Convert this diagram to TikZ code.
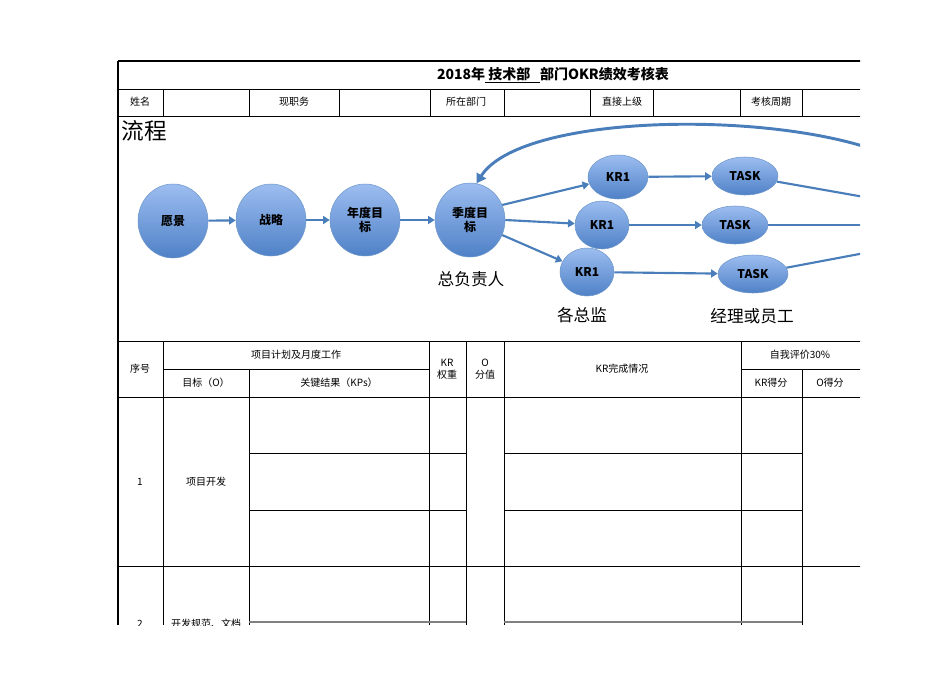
\documentclass[tikz,border=0pt]{standalone}
\usepackage{fontspec}
\setmainfont{Liberation Sans}
\newfontfamily\cjk{Noto Sans CJK SC}
\usetikzlibrary{shapes.geometric,arrows.meta}
\definecolor{okrblue}{HTML}{4F81C7}
\definecolor{okrlight}{HTML}{9CBDF0}
\definecolor{okrline}{HTML}{4A7EBB}
\tikzset{
  bubble/.style={ellipse, draw=okrline!80, top color=okrlight, bottom color=okrblue,
    inner sep=0pt, font=\cjk\bfseries\fontsize{9}{10}\selectfont, align=center},
  flow/.style={okrline, line width=1.6pt, -{Triangle[length=5pt,width=6pt]}},
  cell/.style={font=\cjk\fontsize{7.5}{9}\selectfont, align=center},
  role/.style={font=\cjk\fontsize{12.5}{14}\selectfont}
}
\begin{document}
\begin{tikzpicture}[x=0.75pt,y=-0.75pt]
    \useasboundingbox (0,0) rectangle (950,672);
    \begin{scope}
    \clip (0,0) rectangle (860,625);
        % Table frame, title and info rows
        \draw[thick] (118,61) -- (870,61);
        \draw[thick] (118,61) -- (118,625);
        \draw (118,89) -- (870,89);
        \draw (118,116) -- (870,116);
        \foreach \x in {163,249,339,430,504,590,653,740,802}
            \draw (\x,89) -- (\x,116);
        \node[font=\cjk\bfseries\fontsize{10.5}{12}\selectfont] (title) at (553,75)
            {2018年\underline{\ 技术部\ \ \ }部门OKR绩效考核表};
        \node[cell] (name) at (140,102) {姓名};
        \node[cell] (job) at (294,102) {现职务};
        \node[cell] (dept) at (466,102) {所在部门};
        \node[cell] (boss) at (622,102) {直接上级};
        \node[cell] (period) at (771,102) {考核周期};
        \node[font=\cjk\fontsize{17}{18}\selectfont, anchor=west] (flowtitle) at (117,131) {流程};

        % Flow bubbles
        \node[bubble, minimum width=70pt*0.75, minimum height=74pt*0.75] (vision) at (173,221) {愿景};
        \node[bubble, minimum width=70pt*0.75, minimum height=72pt*0.75] (strategy) at (271,220) {战略};
        \node[bubble, minimum width=70pt*0.75, minimum height=72pt*0.75] (annual) at (365,220) {年度目\\标};
        \node[bubble, minimum width=70pt*0.75, minimum height=74pt*0.75] (quarter) at (470,220) {季度目\\标};
        \node[bubble, minimum width=60pt*0.75, minimum height=44pt*0.75] (kra) at (618,177) {KR1};
        \node[bubble, minimum width=66pt*0.75, minimum height=38pt*0.75] (taska) at (745,176) {TASK};
        \node[bubble, minimum width=54pt*0.75, minimum height=48pt*0.75] (krb) at (602,225) {KR1};
        \node[bubble, minimum width=66pt*0.75, minimum height=38pt*0.75] (taskb) at (735,225) {TASK};
        \node[bubble, minimum width=54pt*0.75, minimum height=48pt*0.75] (krc) at (587,272) {KR1};
        \node[bubble, minimum width=70pt*0.75, minimum height=38pt*0.75] (taskc) at (753,274) {TASK};
        \coordinate (outa) at (870,198);
        \coordinate (outb) at (870,225);
        \coordinate (outc) at (870,252);
        \coordinate (back) at (875,150);

        % Connectors
        \draw[flow] (vision) -- (strategy);
        \draw[flow] (strategy) -- (annual);
        \draw[flow] (annual) -- (quarter);
        \draw[flow] (quarter.25) -- (kra);
        \draw[flow] (quarter.east) -- (krb);
        \draw[flow] (quarter.-25) -- (krc);
        \draw[flow] (kra) -- (taska);
        \draw[flow] (krb) -- (taskb);
        \draw[flow] (krc) -- (taskc);
        \draw[okrline, line width=1.6pt] (taska) -- (outa);
        \draw[okrline, line width=1.6pt] (taskb) -- (outb);
        \draw[okrline, line width=1.6pt] (taskc) -- (outc);
        \draw[okrline, line width=2.2pt, -{Triangle[length=7pt,width=8pt]}]
            (back) .. controls (760,110) and (520,115) .. (quarter.80);

        % Role labels
        \node[role] (chief) at (471,279) {总负责人};
        \node[role] (director) at (582,315) {各总监};
        \node[role] (staff) at (752,316) {经理或员工};

        % Score table header
        \draw (118,341) -- (870,341);
        \draw (163,369) -- (429,369);
        \draw (741,369) -- (870,369);
        \draw (118,397) -- (870,397);
        \foreach \x in {163,429,466,504,741}
            \draw (\x,341) -- (\x,625);
        \draw (249,369) -- (249,625);
        \draw (802,369) -- (802,625);
        \node[cell] (seq) at (140,369) {序号};
        \node[cell] (plan) at (296,355) {项目计划及月度工作};
        \node[cell] (obj) at (206,383) {目标（O）};
        \node[cell] (kps) at (339,383) {关键结果（KPs）};
        \node[cell] (krw) at (447,369) {KR\\权重};
        \node[cell] (oval) at (485,369) {O\\分值};
        \node[cell] (krdone) at (622,369) {KR完成情况};
        \node[cell] (self) at (800,355) {自我评价30\%};
        \node[cell] (krscore) at (771,383) {KR得分};
        \node[cell] (oscore) at (830,383) {O得分};

        % Rows
        \foreach \y in {453,510} {
            \draw (249,\y) -- (466,\y);
            \draw (504,\y) -- (802,\y);
        }
        \draw (118,566) -- (870,566);
        \draw[thick, gray] (249,622) -- (466,622);
        \draw[thick, gray] (504,622) -- (802,622);
        \node[cell] (one) at (140,482) {1};
        \node[cell] (dev) at (206,482) {项目开发};
        \node[cell] (two) at (140,624) {2};
        \node[cell] (spec) at (206,624) {开发规范、文档};
    \end{scope}
\end{tikzpicture}
\end{document}
